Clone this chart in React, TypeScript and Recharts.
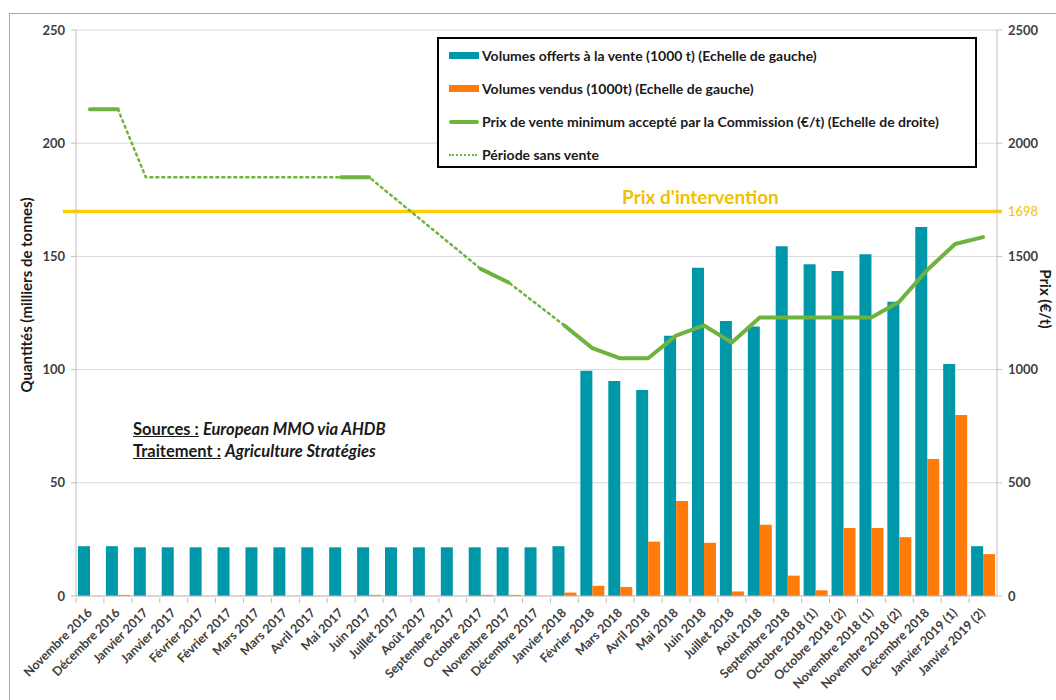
import {
  ComposedChart,
  Bar,
  Line,
  XAxis,
  YAxis,
  CartesianGrid,
  ReferenceLine,
} from "recharts";

const categories = [
  "Novembre 2016", "Décembre 2016", "Janvier 2017", "Janvier 2017", "Février 2017",
  "Février 2017", "Mars 2017", "Mars 2017", "Avril 2017", "Mai 2017", "Juin 2017",
  "Juillet 2017", "Août 2017", "Septembre 2017", "Octobre 2017", "Novembre 2017",
  "Décembre 2017", "Janvier 2018", "Février 2018", "Mars 2018", "Avril 2018",
  "Mai 2018", "Juin 2018", "Juillet 2018", "Août 2018", "Septembre 2018",
  "Octobre 2018 (1)", "Octobre 2018 (2)", "Novembre 2018 (1)", "Novembre 2018 (2)",
  "Décembre 2018", "Janvier 2019 (1)", "Janvier 2019 (2)",
];

// volumes in 1000 t (left scale)
const offered = [
  22, 22, 21.5, 21.5, 21.5, 21.5, 21.5, 21.5, 21.5, 21.5, 21.5, 21.5, 21.5, 21.5, 21.5,
  21.5, 21.5, 22, 99.5, 95, 91, 115, 145, 121.5, 119, 154.5, 146.5, 143.5, 151, 130,
  163, 102.5, 22,
];
const sold = [
  0, 0.5, 0, 0, 0, 0, 0, 0, 0, 0, 0.5, 0, 0, 0, 0.5, 0.5, 0, 1.5, 4.5, 4, 24, 42, 23.5,
  2, 31.5, 9, 2.5, 30, 30, 26, 60.5, 80, 18.5,
];

// minimum accepted price in €/t (right scale), null when no tender was sold
const minPrice = [
  2150, 2150, null, null, null, null, null, null, null, 1850, 1850, null, null, null,
  1445, 1385, null, 1195, 1095, 1050, 1050, 1150, 1195, 1120, 1230, 1230, 1230, 1230,
  1230, 1300, 1440, 1555, 1585,
];
// known prices bracketing the periods without sales
const noSalePrice = [
  null, 2150, 1850, null, null, null, null, null, null, null, 1850, null, null, null,
  1445, 1385, null, 1195, null, null, null, null, null, null, null, null, null, null,
  null, null, null, null, null,
];

const leftTicks = [0, 50, 100, 150, 200, 250];
const rightTicks = [0, 500, 1000, 1500, 1698, 2000, 2500];
const interventionPrice = 1698;

const data = categories.map((name, i) => ({
  name,
  offered: offered[i],
  sold: sold[i],
  minPrice: minPrice[i],
  noSalePrice: noSalePrice[i],
}));

const TEAL = "#0097A9";
const ORANGE = "#FF7C0A";
const GREEN = "#6FB33F";
const YELLOW = "#FFCC00";
const AXIS = "#BFBFBF";
const TEXT = "#404040";
const FONT = "Lato, 'Open Sans', sans-serif";

const CHART_W = 1056;
const LEFT_W = 76;
const RIGHT_W = 59;
const PLOT_W = CHART_W - LEFT_W - RIGHT_W;
const BAND = PLOT_W / categories.length;

function XTick(props: any) {
  const { x, y, payload } = props;
  return (
    <g transform={`translate(${x},${y + 4})`}>
      <line x1={-BAND / 2} x2={-BAND / 2} y1={-10} y2={-5} stroke={AXIS} />
      <text
        x={0}
        y={0}
        dy={6}
        dx={-2}
        textAnchor="end"
        transform="rotate(-45)"
        fontFamily={FONT}
        fontWeight={700}
        fontSize={12.5}
        fill={TEXT}
      >
        {payload.value}
      </text>
    </g>
  );
}

function RightTick(props: any) {
  const { x, y, payload } = props;
  const isRef = payload.value === interventionPrice;
  return (
    <text
      x={x}
      y={y}
      dy="0.355em"
      textAnchor="start"
      fontFamily={FONT}
      fontWeight={isRef ? 400 : 700}
      fontSize={13}
      fill={isRef ? "#F2BF00" : TEXT}
    >
      {payload.value}
    </text>
  );
}

function LegendBox() {
  const row = (swatch: any, label: string) => (
    <div style={{ display: "flex", alignItems: "center", height: 33 }}>
      <div style={{ width: 30, marginRight: 3, display: "flex", alignItems: "center" }}>
        {swatch}
      </div>
      <span>{label}</span>
    </div>
  );
  return (
    <div
      style={{
        position: "absolute",
        left: 437,
        top: 37,
        boxSizing: "border-box",
        width: 540,
        height: 131,
        border: "2px solid #000",
        background: "#fff",
        padding: "0 0 0 10px",
        fontFamily: FONT,
        fontWeight: 700,
        fontSize: 14,
        color: "#1a1a1a",
      }}
    >
      {row(<div style={{ width: 30, height: 7, background: TEAL }} />,
        "Volumes offerts à la vente (1000 t) (Echelle de gauche)")}
      {row(<div style={{ width: 30, height: 7, background: ORANGE }} />,
        "Volumes vendus (1000t) (Echelle de gauche)")}
      {row(<div style={{ width: 30, height: 4, background: GREEN, borderRadius: 2 }} />,
        "Prix de vente minimum accepté par la Commission (€/t) (Echelle de droite)")}
      {row(<div style={{ width: 28, borderTop: `2px dotted ${GREEN}` }} />,
        "Période sans vente")}
    </div>
  );
}

export default function App() {
  return (
    <div
      style={{
        position: "absolute",
        left: 0,
        top: 0,
        width: CHART_W,
        height: 700,
        overflow: "hidden",
        background: "#fff",
      }}
    >
      <div
        style={{
          position: "absolute",
          left: 9,
          top: 13,
          width: 1200,
          height: 900,
          border: "1px solid #A6A6A6",
        }}
      />
      <ComposedChart
        width={CHART_W}
        height={700}
        data={data}
        margin={{ top: 30, right: 0, bottom: 0, left: 0 }}
        barGap={0}
        style={{ position: "absolute", left: 0, top: 0 }}
      >
        <CartesianGrid vertical={false} yAxisId="left" stroke="#D9D9D9" />
        <XAxis
          dataKey="name"
          height={104}
          interval={0}
          tickLine={false}
          axisLine={{ stroke: AXIS }}
          tick={<XTick />}
        />
        <YAxis
          yAxisId="left"
          width={LEFT_W}
          domain={[0, 250]}
          ticks={leftTicks}
          interval={0}
          tickSize={5}
          tickMargin={6}
          axisLine={{ stroke: AXIS }}
          tickLine={{ stroke: AXIS }}
          tick={{ fill: TEXT, fontFamily: FONT, fontWeight: 700, fontSize: 13 }}
          label={{
            value: "Quantités (milliers de tonnes)",
            angle: -90,
            position: "center",
            dx: -11,
            dy: -18,
            style: { fill: "#1a1a1a", fontFamily: FONT, fontWeight: 700, fontSize: 15 },
          }}
        />
        <YAxis
          yAxisId="right"
          orientation="right"
          width={RIGHT_W}
          domain={[0, 2500]}
          ticks={rightTicks}
          interval={0}
          tickSize={5}
          tickMargin={6}
          axisLine={{ stroke: AXIS }}
          tickLine={{ stroke: AXIS }}
          tick={<RightTick />}
          label={{
            value: "Prix (€/t)",
            angle: 90,
            position: "center",
            dx: 19,
            dy: -14,
            style: { fill: "#1a1a1a", fontFamily: FONT, fontWeight: 700, fontSize: 15 },
          }}
        />
        <ReferenceLine
          yAxisId="right"
          y={interventionPrice}
          stroke={YELLOW}
          strokeWidth={3.5}
          shape={(p: any) => (
            <line
              x1={LEFT_W - 13}
              y1={p.y1}
              x2={CHART_W - RIGHT_W + 5}
              y2={p.y2}
              stroke={YELLOW}
              strokeWidth={3.5}
            />
          )}
          label={{
            value: "Prix d'intervention",
            content: (p: any) => (
              <text
                x={p.viewBox.x + p.viewBox.width * 0.678}
                y={p.viewBox.y - 8}
                textAnchor="middle"
                fontFamily={FONT}
                fontWeight={700}
                fontSize={19}
                fill="#F2BF00"
              >
                Prix d'intervention
              </text>
            ),
          }}
        />
        <Bar yAxisId="left" dataKey="offered" fill={TEAL} barSize={12} isAnimationActive={false} />
        <Bar yAxisId="left" dataKey="sold" fill={ORANGE} barSize={12} isAnimationActive={false} />
        <Line
          yAxisId="right"
          dataKey="noSalePrice"
          stroke={GREEN}
          strokeWidth={2.5}
          strokeDasharray="2 4"
          strokeLinecap="round"
          connectNulls
          dot={false}
          activeDot={false}
          isAnimationActive={false}
        />
        <Line
          yAxisId="right"
          dataKey="minPrice"
          stroke={GREEN}
          strokeWidth={4}
          strokeLinecap="round"
          strokeLinejoin="round"
          dot={false}
          activeDot={false}
          isAnimationActive={false}
        />
      </ComposedChart>
      <LegendBox />
      <div
        style={{
          position: "absolute",
          left: 133,
          top: 418,
          fontFamily: FONT,
          fontWeight: 700,
          fontSize: 16.5,
          lineHeight: "22px",
          color: "#1a1a1a",
        }}
      >
        <div>
          <span style={{ textDecoration: "underline" }}>Sources :</span>{" "}
          <i>European MMO via AHDB</i>
        </div>
        <div>
          <span style={{ textDecoration: "underline" }}>Traitement :</span>{" "}
          <i>Agriculture Stratégies</i>
        </div>
      </div>
    </div>
  );
}
